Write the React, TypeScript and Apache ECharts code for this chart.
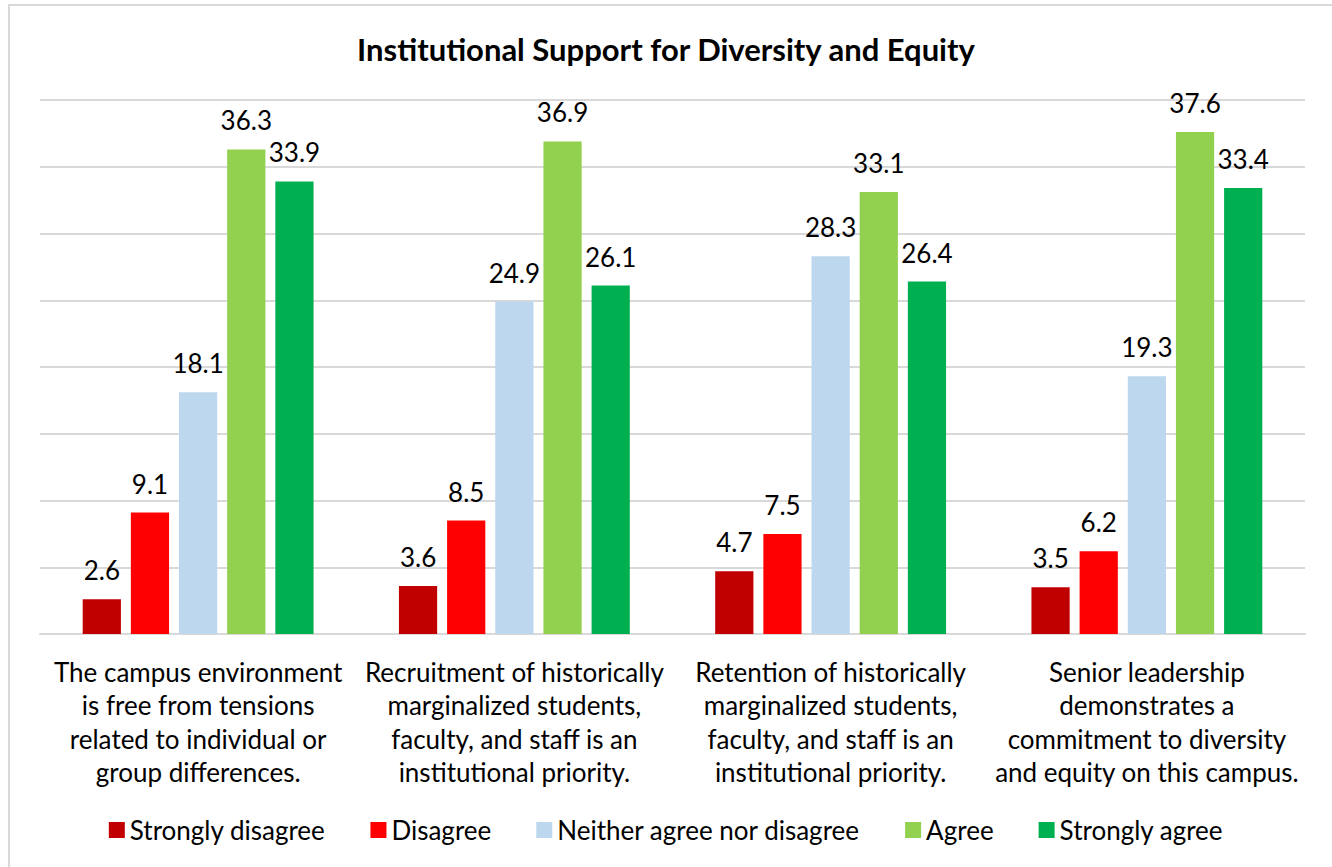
import React, { useEffect, useRef } from "react";
import * as echarts from "echarts";

const categories = [
  "The campus environment\nis free from tensions\nrelated to individual or\ngroup differences.",
  "Recruitment of historically\nmarginalized students,\nfaculty, and staff is an\ninstitutional priority.",
  "Retention of historically\nmarginalized students,\nfaculty, and staff is an\ninstitutional priority.",
  "Senior leadership\ndemonstrates a\ncommitment to diversity\nand equity on this campus.",
];
const seriesNames = ["Strongly disagree", "Disagree", "Neither agree nor disagree", "Agree", "Strongly agree"];
const stronglyDisagree = [2.6, 3.6, 4.7, 3.5];
const disagree = [9.1, 8.5, 7.5, 6.2];
const neither = [18.1, 24.9, 28.3, 19.3];
const agree = [36.3, 36.9, 33.1, 37.6];
const stronglyAgree = [33.9, 26.1, 26.4, 33.4];
const colors = ["#C00000", "#FF0000", "#BDD7EE", "#92D050", "#00B050"];

const FONT = "Lato, 'Open Sans', sans-serif";

export default function App() {
  const ref = useRef<HTMLDivElement>(null);
  useEffect(() => {
    if (!ref.current) return;
    const chart = echarts.init(ref.current, null, { renderer: "svg" });
    const values = [stronglyDisagree, disagree, neither, agree, stronglyAgree];
    chart.setOption({
      animation: false,
      backgroundColor: "#fff",
      textStyle: { fontFamily: FONT },
      title: {
        text: "Institutional Support for Diversity and Equity",
        left: "center",
        top: 28,
        textStyle: { fontFamily: FONT, fontSize: 31, fontWeight: "bold", color: "#000" },
      },
      graphic: [
        {
          type: "rect",
          shape: { x: 9, y: 5, width: 1340, height: 880 },
          style: { fill: "none", stroke: "#D9D9D9", lineWidth: 2 },
          silent: true,
          z: -1,
        },
      ],
      legend: {
        bottom: 19,
        left: "center",
        itemWidth: 16,
        itemHeight: 16,
        itemGap: 45,
        icon: "rect",
        textStyle: { fontFamily: FONT, fontSize: 26, color: "#000" },
        data: seriesNames,
      },
      grid: { left: 40, right: 27, top: 100, bottom: 233, containLabel: false },
      xAxis: {
        type: "category",
        data: categories,
        axisLine: { show: true, lineStyle: { color: "#D9D9D9", width: 2 } },
        axisTick: { show: false },
        axisLabel: {
          interval: 0,
          margin: 21,
          fontFamily: FONT,
          fontSize: 26,
          lineHeight: 33.5,
          color: "#000",
          align: "center",
        },
      },
      yAxis: {
        type: "value",
        min: 0,
        max: 40,
        interval: 5,
        axisLabel: { show: false },
        axisLine: { show: false },
        axisTick: { show: false },
        splitLine: { lineStyle: { color: "#D9D9D9", width: 2 } },
      },
      series: seriesNames.map((name, i) => ({
        name,
        type: "bar",
        data: values[i],
        barGap: "26%",
        barCategoryGap: "27%",
        itemStyle: { color: colors[i] },
        label: {
          show: true,
          position: "top",
          distance: 16,
          fontFamily: FONT,
          fontSize: 26,
          color: "#000",
          formatter: (p: any) => p.value.toFixed(1),
        },
      })),
    });
    return () => chart.dispose();
  }, []);
  return <div ref={ref} style={{ position: "fixed", left: 0, top: 0, width: 1332, height: 867 }} />;
}
